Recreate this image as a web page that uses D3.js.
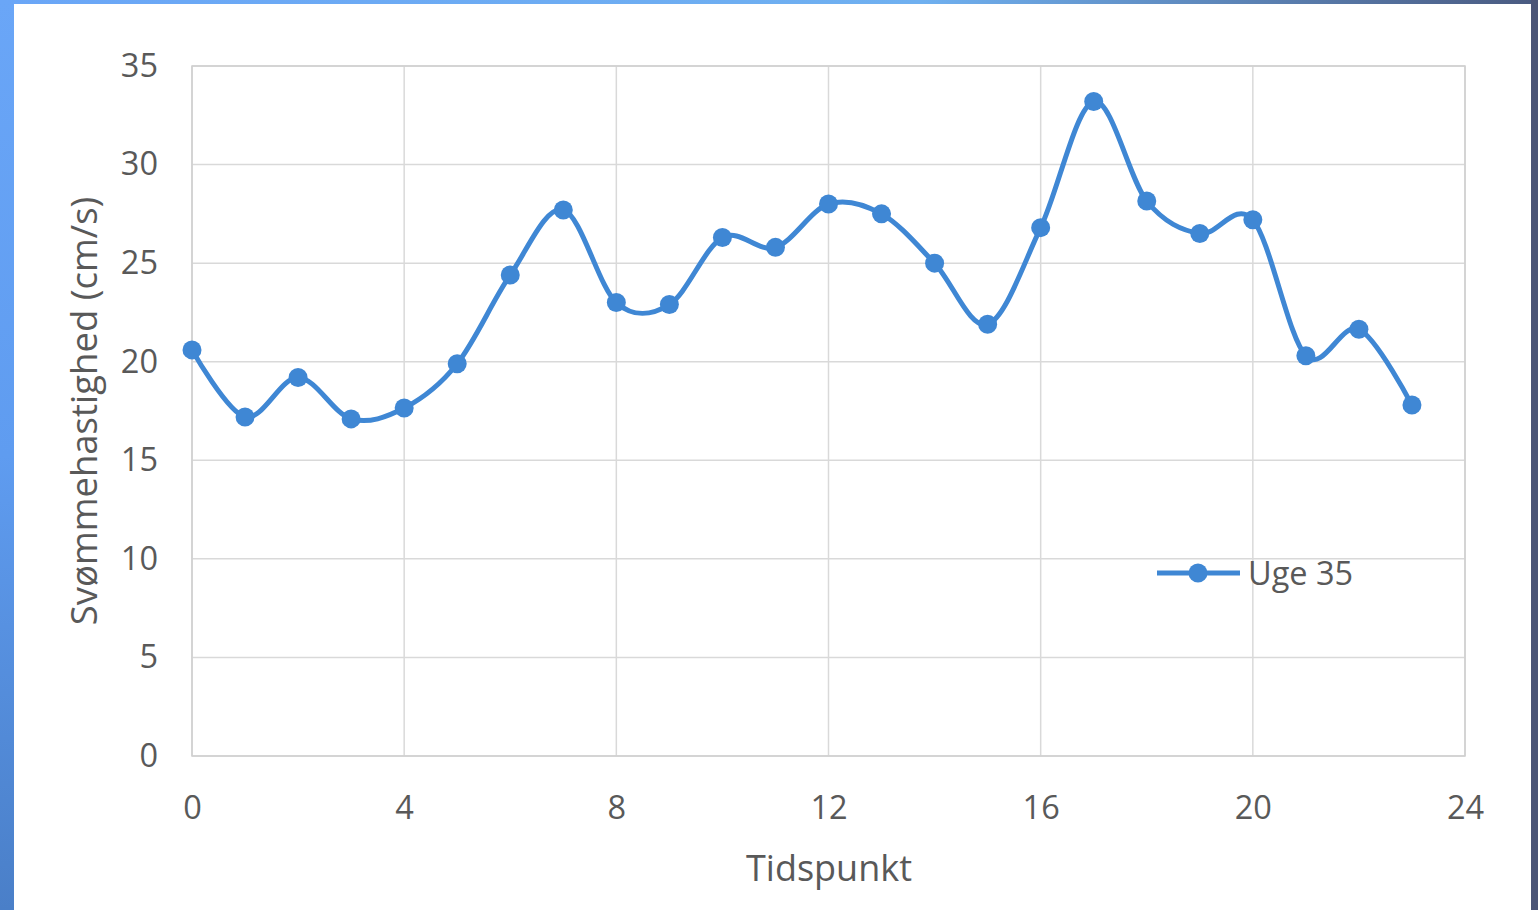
<!DOCTYPE html>
<html><head><meta charset="utf-8">
<script src="https://cdn.jsdelivr.net/npm/d3@7"></script>
<style>
html,body{margin:0;padding:0;background:#fff;}
svg{display:block;}
</style></head>
<body>
<svg id="c" width="1538" height="910"></svg>
<script>
const hours = [0,1,2,3,4,5,6,7,8,9,10,11,12,13,14,15,16,17,18,19,20,21,22,23];
const uge35 = [20.6,17.2,19.2,17.1,17.65,19.9,24.4,27.7,23.0,22.9,26.3,25.8,28.0,27.5,25.0,21.9,26.8,33.2,28.15,26.5,27.2,20.3,21.65,17.8];
const xTicks = [0,4,8,12,16,20,24];
const yTicks = [0,5,10,15,20,25,30,35];
const seriesName = "Uge 35";
const xTitle = "Tidspunkt";
const yTitle = "Svømmehastighed (cm/s)";

const svg = d3.select("#c");
const defs = svg.append("defs");
const lg = defs.append("linearGradient").attr("id","lb").attr("x1",0).attr("y1",0).attr("x2",0).attr("y2",1);
lg.append("stop").attr("offset","0%").attr("stop-color","#6aa6f7");
lg.append("stop").attr("offset","50%").attr("stop-color","#5f9cf0");
lg.append("stop").attr("offset","100%").attr("stop-color","#4a7fc8");
const tg = defs.append("linearGradient").attr("id","tb").attr("x1",0).attr("y1",0).attr("x2",1).attr("y2",0);
tg.append("stop").attr("offset","0%").attr("stop-color","#6aa6f7");
tg.append("stop").attr("offset","60%").attr("stop-color","#6fb0f0");
tg.append("stop").attr("offset","100%").attr("stop-color","#4a5a80");

svg.append("rect").attr("x",0).attr("y",0).attr("width",1538).attr("height",910).attr("fill","#fff");
svg.append("rect").attr("x",0).attr("y",0).attr("width",14).attr("height",910).attr("fill","url(#lb)");
svg.append("rect").attr("x",0).attr("y",0).attr("width",1538).attr("height",4).attr("fill","url(#tb)");
svg.append("rect").attr("x",1531).attr("y",0).attr("width",7).attr("height",910).attr("fill","#4b5577");

const L=192, R=1465, T=66, B=756;
const x = d3.scaleLinear().domain([0,24]).range([L,R]);
const y = d3.scaleLinear().domain([0,35]).range([B,T]);
const font = "'Open Sans', 'Liberation Sans', sans-serif";

// grid
const g = svg.append("g");
g.selectAll(".hg").data(yTicks).join("line")
  .attr("x1",L).attr("x2",R).attr("y1",d=>y(d)).attr("y2",d=>y(d))
  .attr("stroke","#d9d9d9").attr("stroke-width",1.5);
g.selectAll(".vg").data(xTicks).join("line")
  .attr("y1",T).attr("y2",B).attr("x1",d=>x(d)).attr("x2",d=>x(d))
  .attr("stroke","#d9d9d9").attr("stroke-width",1.5);
g.append("rect").attr("x",L).attr("y",T).attr("width",R-L).attr("height",B-T)
  .attr("fill","none").attr("stroke","#cfcfcf").attr("stroke-width",1.5);

const yAxis = svg.append("g").attr("transform",`translate(${L},0)`)
  .call(d3.axisLeft(y).tickValues(yTicks).tickSize(0).tickPadding(34));
const xAxis = svg.append("g").attr("transform",`translate(0,${B})`)
  .call(d3.axisBottom(x).tickValues(xTicks).tickSize(0).tickPadding(40));
[yAxis,xAxis].forEach(a=>{
  a.select(".domain").remove();
  a.selectAll("text").attr("font-family",font).attr("font-size",32.5).attr("fill","#595959");
});

svg.append("text").attr("x",829).attr("y",881).attr("text-anchor","middle")
  .attr("font-family",font).attr("font-size",36).attr("fill","#595959").text(xTitle);
svg.append("text").attr("transform","translate(97,411) rotate(-90)").attr("text-anchor","middle")
  .attr("font-family",font).attr("font-size",36.5).attr("fill","#595959").text(yTitle);

const col = "#3f87d4";
const line = d3.line().x((d,i)=>x(hours[i])).y(d=>y(d)).curve(d3.curveCatmullRom.alpha(0));
svg.append("path").datum(uge35).attr("d",line).attr("fill","none")
  .attr("stroke",col).attr("stroke-width",5).attr("stroke-linejoin","round");
svg.selectAll(".pt").data(uge35).join("circle")
  .attr("cx",(d,i)=>x(hours[i])).attr("cy",d=>y(d)).attr("r",9.5).attr("fill",col);

// legend
const ly = 573;
svg.append("line").attr("x1",1157).attr("x2",1240).attr("y1",ly).attr("y2",ly).attr("stroke",col).attr("stroke-width",5);
svg.append("circle").attr("cx",1198).attr("cy",ly).attr("r",9.5).attr("fill",col);
svg.append("text").attr("x",1248).attr("y",ly+12).attr("font-family",font).attr("font-size",32.5).attr("fill","#595959").text(seriesName);
</script>
</body></html>
